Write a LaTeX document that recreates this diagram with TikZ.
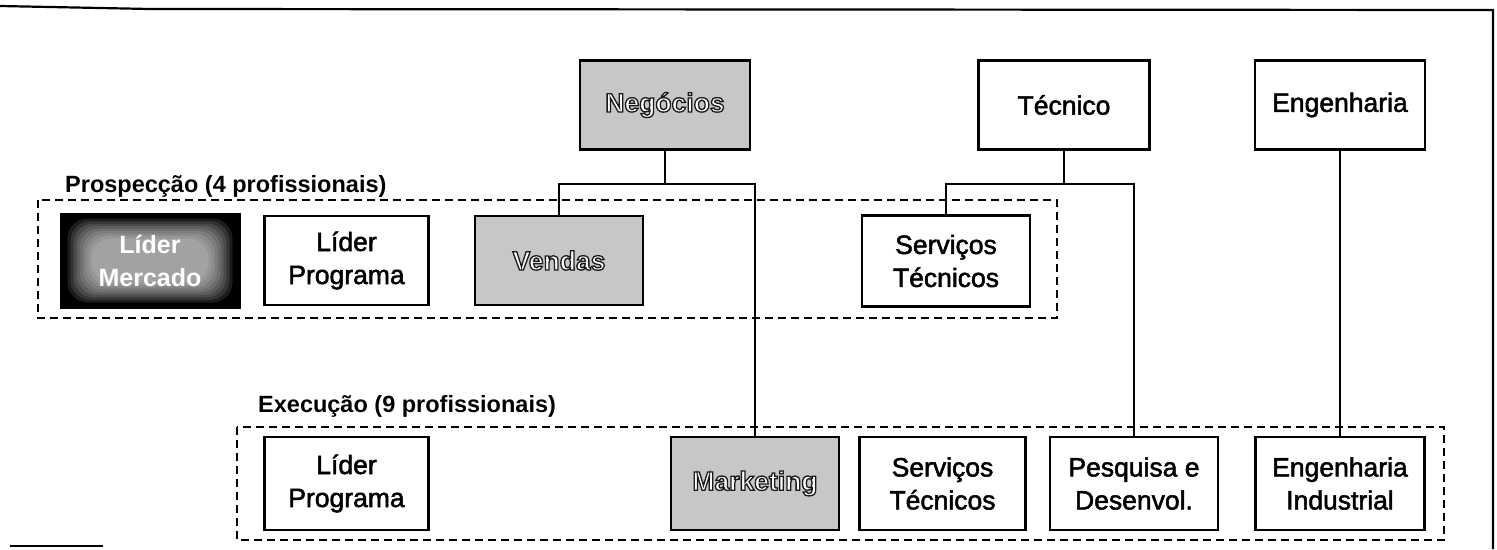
\documentclass[tikz,border=0pt]{standalone}
\usepackage{fontspec}
\setmainfont{Liberation Sans}
\usetikzlibrary{calc}
\newcommand\outl[1]{\special{pdf:code 2 Tr 1.3 w}\textcolor{white}{\special{pdf:code 0.1 G}\bfseries #1}\special{pdf:code 0 Tr}}
\newcommand\heavy[1]{\special{pdf:code 2 Tr 0.5 w 0 G}#1\special{pdf:code 0 Tr}}
\begin{document}
\begin{tikzpicture}[x=1pt,y=-1pt,
  box/.style={draw=black,line width=2.6pt,minimum width=#1,minimum height=89pt,align=center,
    font=\fontsize{26.5}{33}\selectfont,inner sep=0pt,fill=white},
  box/.default=166pt,
  graybox/.style={box=#1,fill=black!22},
  graybox/.default=170pt,
  conn/.style={line width=2pt},
  grp/.style={line width=2pt,dash pattern=on 8pt off 5pt},
  grplabel/.style={anchor=west,font=\fontsize{23.5}{28}\selectfont\bfseries,inner sep=0pt},
  frame/.style={line width=2.2pt}]
\useasboundingbox (0,0) rectangle (1497,549);
% scanned page frame
\coordinate (f1) at (0,6);
\coordinate (f2) at (150,9);
\coordinate (f3) at (1493,10);
\coordinate (f4) at (1493,549);
\draw[frame] (f1) -- (f2) -- (f3) -- (f4);
\coordinate (g1) at (10,546);
\coordinate (g2) at (103,546);
\draw[frame] (g1) -- (g2);
% group frames
\node[grplabel] (lprosp) at (65,186) {Prospecção (4 profissionais)};
\node[grplabel] (lexec) at (258,406) {Execução (9 profissionais)};
\coordinate (p1) at (38,200);
\coordinate (p2) at (1057,318);
\draw[grp] (p1) rectangle (p2);
\coordinate (e1) at (237,427);
\coordinate (e2) at (1444,540);
\draw[grp] (e1) rectangle (e2);
% top level
\node[graybox] (neg) at (665,105) {\outl{Negócios}};
\node[box=171pt] (tec) at (1064,105) {\heavy{Técnico}};
\node[box=170pt] (eng) at (1340,105) {\heavy{Engenharia}};
% prospecção
\node[draw=black,line width=1pt,fill=black,minimum width=180pt,minimum height=95pt,inner sep=0pt] (lm) at (150,260.5) {};
\foreach \i in {0,...,8}{
  \fill[white,opacity=0.11,rounded corners=20pt]
    ($(lm.south west)+(8+3*\i,-6-2.5*\i)$) rectangle ($(lm.north east)+(-8-3*\i,6+2.5*\i)$);
}
\node[align=center,text=white,font=\fontsize{25}{33}\selectfont\bfseries] (lmt) at (lm.center) {Líder\\Mercado};
\node[box=164pt] (lp1) at (346.5,260.5) {\heavy{Líder}\\\heavy{Programa}};
\node[graybox=168pt] (ven) at (559,260.5) {\outl{Vendas}};
\node[box=168pt,minimum height=91pt] (st1) at (946,261) {\heavy{Serviços}\\\heavy{Técnicos}};
% execução
\node[box=164pt,minimum height=93pt] (lp2) at (346.5,483.5) {\heavy{Líder}\\\heavy{Programa}};
\node[graybox=168pt,minimum height=93pt] (mkt) at (755,483.5) {\outl{Marketing}};
\node[box=166pt,minimum height=93pt] (st2) at (942.5,483.5) {\heavy{Serviços}\\\heavy{Técnicos}};
\node[box=168pt,minimum height=93pt] (pd) at (1134,483.5) {\heavy{Pesquisa e}\\\heavy{Desenvol.}};
\node[box=169pt,minimum height=93pt] (ei) at (1340,483.5) {\heavy{Engenharia}\\\heavy{Industrial}};
% connectors
\coordinate (nj) at ($(neg.south)+(0,33)$);
\coordinate (tj) at ($(tec.south)+(0,33)$);
\draw[conn] (neg.south) -- (nj);
\draw[conn] (ven.north) |- (nj) -| (mkt.north);
\draw[conn] (tec.south) -- (tj);
\draw[conn] (st1.north) |- (tj) -| (pd.north);
\draw[conn] (eng.south) -- (ei.north);
\end{tikzpicture}
\end{document}
